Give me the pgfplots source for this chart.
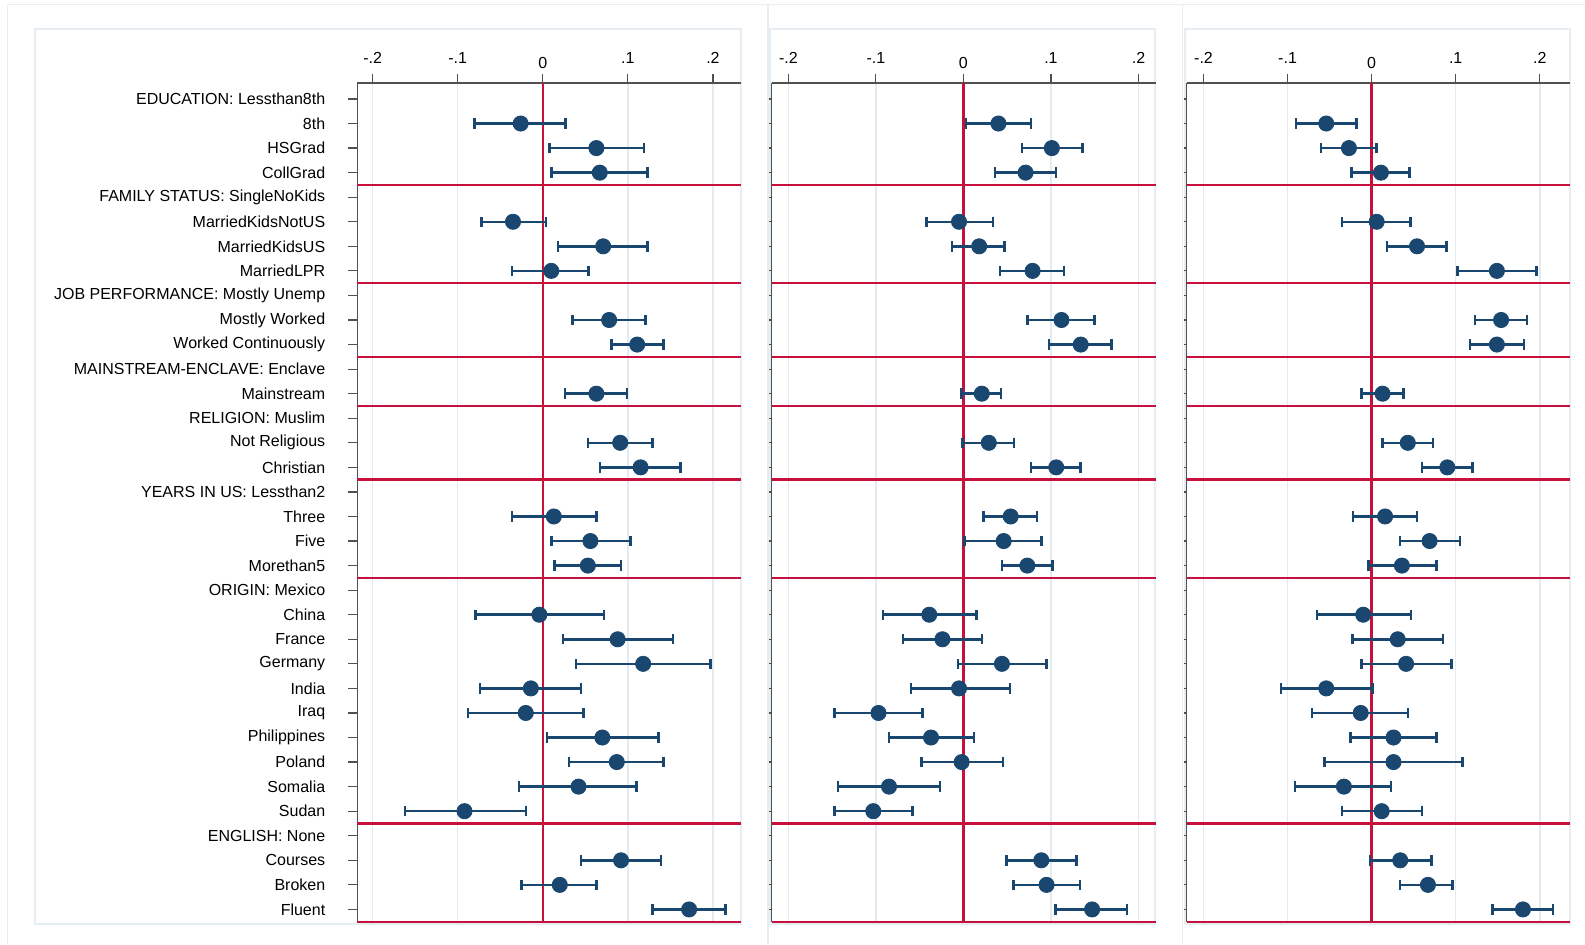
\documentclass[border=0pt]{standalone}
\usepackage{pgfplots}
\pgfplotsset{compat=1.18}
\usepackage{pgfplotstable}
\usepackage{fontspec}
\setmainfont{Liberation Sans}
\definecolor{navy}{RGB}{26,71,111}
\definecolor{cranb}{RGB}{200,16,60}
\definecolor{gridc}{RGB}{226,235,240}
\definecolor{framec}{RGB}{230,238,241}
\definecolor{axc}{RGB}{80,80,80}

\pgfplotstableread{
row est lo hi
2 -0.026 -0.080 0.027
3 0.063 0.008 0.119
4 0.067 0.010 0.123
6 -0.035 -0.072 0.004
7 0.071 0.018 0.123
8 0.010 -0.036 0.054
10 0.078 0.035 0.121
11 0.111 0.081 0.142
13 0.063 0.026 0.099
15 0.091 0.053 0.129
16 0.115 0.067 0.162
18 0.013 -0.036 0.063
19 0.056 0.010 0.103
20 0.053 0.014 0.092
22 -0.004 -0.079 0.072
23 0.088 0.024 0.153
24 0.118 0.039 0.197
25 -0.014 -0.074 0.045
26 -0.020 -0.088 0.048
27 0.070 0.005 0.136
28 0.087 0.031 0.142
29 0.042 -0.028 0.110
30 -0.092 -0.162 -0.020
32 0.092 0.045 0.139
33 0.020 -0.025 0.063
34 0.172 0.129 0.215
}\tabA

\pgfplotstableread{
row est lo hi
2 0.040 0.003 0.077
3 0.101 0.067 0.136
4 0.071 0.036 0.106
6 -0.005 -0.042 0.034
7 0.018 -0.013 0.047
8 0.079 0.042 0.115
10 0.112 0.073 0.150
11 0.134 0.098 0.169
13 0.021 -0.002 0.043
15 0.029 -0.001 0.058
16 0.106 0.077 0.134
18 0.054 0.023 0.084
19 0.046 0.001 0.089
20 0.073 0.044 0.102
22 -0.039 -0.092 0.015
23 -0.024 -0.069 0.021
24 0.044 -0.006 0.095
25 -0.005 -0.060 0.053
26 -0.097 -0.147 -0.047
27 -0.037 -0.085 0.012
28 -0.002 -0.048 0.045
29 -0.085 -0.143 -0.027
30 -0.103 -0.147 -0.058
32 0.089 0.049 0.129
33 0.095 0.057 0.133
34 0.147 0.105 0.187
}\tabB

\pgfplotstableread{
row est lo hi
2 -0.054 -0.090 -0.018
3 -0.027 -0.060 0.006
4 0.011 -0.024 0.045
6 0.006 -0.035 0.046
7 0.054 0.018 0.089
8 0.149 0.102 0.196
10 0.154 0.123 0.185
11 0.149 0.117 0.181
13 0.013 -0.012 0.038
15 0.043 0.013 0.073
16 0.090 0.060 0.120
18 0.016 -0.022 0.054
19 0.069 0.034 0.105
20 0.036 -0.004 0.077
22 -0.010 -0.065 0.047
23 0.031 -0.023 0.085
24 0.041 -0.012 0.095
25 -0.054 -0.108 0.001
26 -0.013 -0.071 0.043
27 0.026 -0.025 0.077
28 0.026 -0.056 0.108
29 -0.033 -0.091 0.023
30 0.012 -0.035 0.060
32 0.034 -0.002 0.071
33 0.067 0.034 0.096
34 0.180 0.144 0.216
}\tabC

\pgfplotsset{
  coefpanel/.style={
    scale only axis, height=419.35pt, anchor=north west,
    ymin=-34.5, ymax=-0.35,
    axis x line*=top, axis y line*=left,
    axis line style={-, draw=axc, line width=0.6pt},
    xtick={-0.2,-0.1,0,0.1,0.2}, xticklabels={-.2,-.1,\smash{\raisebox{-2.5pt}{0}},.1,.2},
    ytick={-1,-2,...,-34},
    tick align=outside, major tick length=4.5pt,
    tick style={draw=axc, line width=0.6pt},
    xmajorgrids, grid style={gridc, line width=0.75pt},
    extra y ticks={-4.5,-8.5,-11.5,-13.5,-16.5,-20.5,-30.5,-34.5},
    extra y tick labels={},
    extra y tick style={grid=major, major grid style={cranb, line width=1.15pt}, tick style={draw=none}},
    extra x ticks={0}, extra x tick labels={},
    extra x tick style={grid=major, major grid style={cranb, line width=1.15pt}, tick style={draw=none}},
    font=\fontsize{8}{9.5}\selectfont,
    xticklabel style={yshift=1.5pt},
  },
  coefplot/.style={
    only marks, mark=*, mark size=3.8pt, color=navy,
    mark options={fill=navy, draw=navy},
    error bars/.cd, x dir=both, x explicit,
    error bar style={line width=1.25pt, navy},
    error mark options={line width=1.25pt, mark size=2.6pt, navy, rotate=90},
  },
}

\begin{document}
\begin{tikzpicture}
\path[use as bounding box] (0,0) rectangle (792.5pt,-472pt);
% frames
\draw[framec, line width=0.6pt] (3.85pt,-2.35pt) -- (792.5pt,-2.35pt);
\foreach \xx in {3.85,384,591.35} {\draw[framec, line width=0.6pt] (\xx pt,-2.35pt) -- (\xx pt,-472pt);}
\draw[framec, line width=0.6pt] (17.5pt,-14.5pt) rectangle (370.5pt,-462pt);
\draw[framec, line width=0.6pt] (385pt,-14.5pt) rectangle (577.5pt,-462pt);
\draw[framec, line width=0.6pt] (592.5pt,-14.5pt) rectangle (785pt,-462pt);

\begin{axis}[coefpanel, at={(178.65pt,-41.5pt)}, width=191.85pt, xmin=-0.218, xmax=0.233,
  yticklabels={EDUCATION: Lessthan8th, 8th, HSGrad, CollGrad,
    FAMILY STATUS: SingleNoKids, MarriedKidsNotUS, MarriedKidsUS, MarriedLPR,
    JOB PERFORMANCE: Mostly Unemp, Mostly Worked, Worked Continuously,
    MAINSTREAM-ENCLAVE: Enclave, Mainstream,
    RELIGION: Muslim, Not Religious, Christian,
    YEARS IN US: Lessthan2, Three, Five, Morethan5,
    ORIGIN: Mexico, China, France, Germany, India, Iraq, Philippines, Poland, Somalia, Sudan,
    ENGLISH: None, Courses, Broken, Fluent},
  yticklabel style={xshift=-8pt}]
\addplot[coefplot] table[x=est, y expr=-\thisrow{row},
  x error plus expr=\thisrow{hi}-\thisrow{est}, x error minus expr=\thisrow{est}-\thisrow{lo}] {\tabA};
\end{axis}

\begin{axis}[coefpanel, at={(385.85pt,-41.5pt)}, width=192.15pt, xmin=-0.219, xmax=0.220,
  yticklabels={}, y tick style={/pgfplots/major tick length=1.5pt}]
\addplot[coefplot] table[x=est, y expr=-\thisrow{row},
  x error plus expr=\thisrow{hi}-\thisrow{est}, x error minus expr=\thisrow{est}-\thisrow{lo}] {\tabB};
\end{axis}

\begin{axis}[coefpanel, at={(593.35pt,-41.5pt)}, width=191.65pt, xmin=-0.220, xmax=0.236,
  yticklabels={}, y tick style={/pgfplots/major tick length=1.5pt}]
\addplot[coefplot] table[x=est, y expr=-\thisrow{row},
  x error plus expr=\thisrow{hi}-\thisrow{est}, x error minus expr=\thisrow{est}-\thisrow{lo}] {\tabC};
\end{axis}
\end{tikzpicture}
\end{document}
